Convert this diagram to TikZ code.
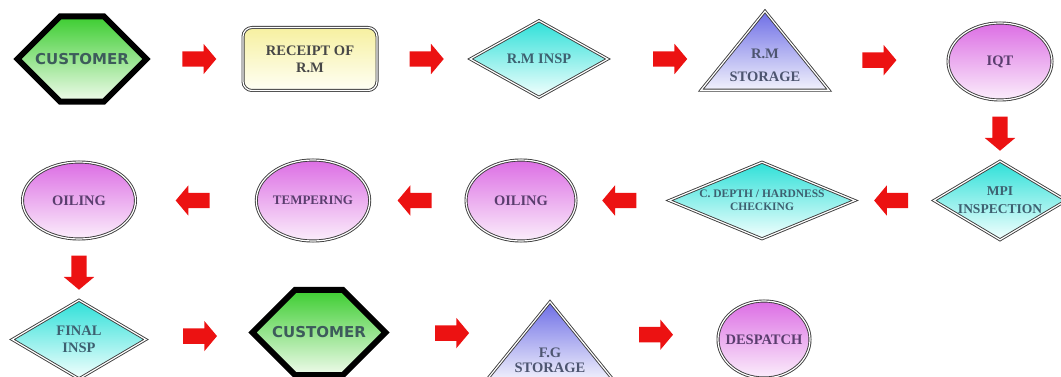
\documentclass[tikz,border=0pt]{standalone}
\usepackage{fontspec}
\setmainfont{Liberation Serif}
\newfontfamily\hexfont{DejaVu Sans}
\usetikzlibrary{positioning,shapes.geometric,shapes.misc,shapes.arrows}

\definecolor{hexgreen}{RGB}{60,205,48}
\definecolor{hexpale}{RGB}{240,251,236}
\definecolor{hextext}{RGB}{61,91,91}
\definecolor{recyellow}{RGB}{246,240,160}
\definecolor{recpale}{RGB}{255,255,245}
\definecolor{insptop}{RGB}{46,224,216}
\definecolor{insppale}{RGB}{244,255,254}
\definecolor{insptext}{RGB}{61,96,112}
\definecolor{storetop}{RGB}{110,110,230}
\definecolor{storepale}{RGB}{242,242,252}
\definecolor{storetext}{RGB}{77,85,112}
\definecolor{proctop}{RGB}{220,110,228}
\definecolor{procpale}{RGB}{251,238,251}
\definecolor{proctext}{RGB}{90,61,110}
\definecolor{rimgray}{RGB}{60,60,60}
\definecolor{arrred}{RGB}{236,18,18}

\begin{document}
\begin{tikzpicture}[x=1pt,y=-1pt,on grid,
    every node/.style={align=center},
    txt/.style={font=\bfseries\fontsize{14.5}{17}\selectfont},
    rim/.style={draw=rimgray,line width=0.9pt,double=white,double distance=1.2pt},
    hexbox/.style={chamfered rectangle,chamfered rectangle xsep=32pt,
        chamfered rectangle ysep=37pt,minimum width=129pt,minimum height=77pt,
        inner sep=0pt,draw=black,line width=6pt,
        top color=hexgreen,bottom color=hexpale,text=hextext,
        font=\hexfont\bfseries\fontsize{15}{18}\selectfont},
    recbox/.style={rectangle,rim,rounded corners=9pt,minimum width=134pt,
        minimum height=63pt,top color=recyellow,bottom color=recpale,
        text=black!72,txt},
    inspbox/.style={diamond,rim,aspect=1.8,minimum width=138pt,minimum height=77pt,
        inner sep=0pt,top color=insptop,bottom color=insppale,text=insptext,txt},
    storebox/.style={isosceles triangle,isosceles triangle stretches,
        shape border rotate=90,minimum width=128pt,minimum height=79pt,
        inner xsep=-30pt,inner ysep=-9pt,rim,top color=storetop,bottom color=storepale,
        text=storetext,txt},
    procbox/.style={ellipse,rim,minimum width=104pt,minimum height=77pt,
        inner sep=0pt,top color=proctop,bottom color=procpale,text=proctext,txt},
    arr/.style={single arrow,fill=arrred,draw=none,minimum height=34pt,
        inner xsep=0pt,inner ysep=7.5pt,single arrow head extend=7.5pt,
        single arrow tip angle=100},
    rarr/.style={arr},
    larr/.style={arr,rotate=180},
    darr/.style={arr,rotate=-90}]
  \useasboundingbox (0,0) rectangle (1061,377);

  % first row
  \node[hexbox] (cust1) at (82,59) {CUSTOMER};
  \node[recbox,right=228pt of cust1] (rec) {RECEIPT OF\\R.M};
  \node[inspbox,right=229pt of rec] (rminsp) {R.M INSP};
  % empty first line lifts the triangle above its text
  \node[storebox,right=226pt of rminsp] (rmstore) {\mbox{}\\[6pt]R.M\\[6pt]STORAGE};
  \node[procbox,right=235pt of rmstore,yshift=-2.5pt] (iqt) {IQT};

  % second row, right to left
  \node[inspbox,below=139pt of iqt,minimum width=130pt,minimum height=79pt,
        font=\bfseries\fontsize{13.5}{18}\selectfont] (mpi) {MPI\\INSPECTION};
  \node[inspbox,left=238pt of mpi,minimum width=186pt,aspect=2.4,
        font=\bfseries\fontsize{11.5}{13}\selectfont] (cdepth) {C. DEPTH / HARDNESS\\CHECKING};
  \node[procbox,left=241pt of cdepth,minimum width=110pt,minimum height=81pt] (oil2) {OILING};
  \node[procbox,left=208pt of oil2,minimum width=108pt,minimum height=81pt,
        font=\bfseries\fontsize{13}{15}\selectfont] (temper) {TEMPERING};
  \node[procbox,left=234pt of temper,minimum width=113pt] (oil1) {OILING};

  % third row
  \node[inspbox,below=139pt of oil1,minimum width=134pt,minimum height=79pt] (finalinsp) {FINAL\\INSP};
  \node[hexbox,right=240pt of finalinsp,yshift=7pt,minimum width=133pt] (cust2) {CUSTOMER};
  \node[storebox,right=231pt of cust2,yshift=-17pt] (fgstore) {\mbox{}\\[15pt]F.G\\[-2pt]STORAGE};
  \node[procbox,right=214pt of fgstore,yshift=10pt,minimum width=92pt,inner xsep=-12pt] (desp) {DESPATCH};

  % flow arrows
  \path (cust1) -- node[rarr]{} (rec);
  \path (rec) -- node[rarr]{} (rminsp);
  \path (rminsp) -- node[rarr]{} (rmstore);
  \path (rmstore) -- node[rarr]{} (iqt);
  \path (iqt) -- node[darr]{} (mpi);
  \path (mpi) -- node[larr]{} (cdepth);
  \path (cdepth) -- node[larr]{} (oil2);
  \path (oil2) -- node[larr]{} (temper);
  \path (temper) -- node[larr]{} (oil1);
  \path (oil1) -- node[darr]{} (finalinsp);
  \path (finalinsp) -- node[rarr]{} (cust2);
  \path (cust2) -- node[rarr,yshift=9pt]{} (fgstore);
  \path (fgstore) -- node[rarr,yshift=10pt]{} (desp);
\end{tikzpicture}
\end{document}
